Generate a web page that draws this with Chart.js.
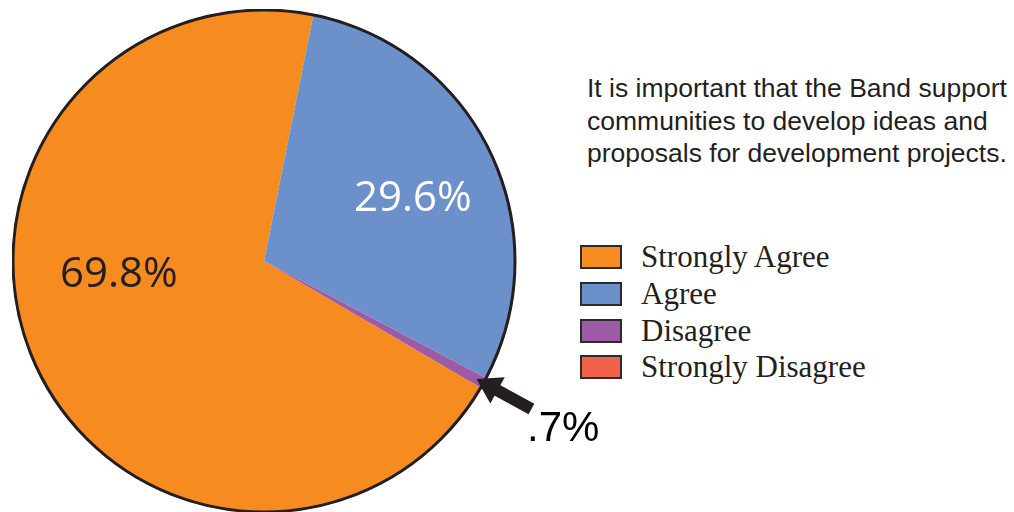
<!DOCTYPE html>
<html>
<head>
<meta charset="utf-8">
<script src="https://cdn.jsdelivr.net/npm/chart.js@4.4.0/dist/chart.umd.min.js"></script>
<style>
  html, body { margin: 0; padding: 0; background: #fff; }
  #wrap { position: relative; width: 1014px; height: 512px; overflow: hidden; }
  #pieBox { position: absolute; left: 12px; top: 9px; width: 564px; height: 504px; }
  .pct { position: absolute; font-family: "Open Sans", "Liberation Sans", sans-serif; font-size: 42px; line-height: 1; white-space: nowrap; }
  #note { position: absolute; left: 587px; top: 72px; font-family: "Liberation Sans", Arial, sans-serif; font-size: 26.5px; line-height: 32.5px; color: #231f20; white-space: nowrap; }
  #legend { position: absolute; left: 580px; top: 239px; font-family: "Liberation Serif", serif; font-size: 31px; color: #231f20; }
  .item { height: 36.7px; display: flex; align-items: center; }
  .swatch { width: 38px; height: 20px; border: 2px solid #2b2b2b; margin-right: 19px; }
</style>
</head>
<body>
<div id="wrap">
  <div id="pieBox"><canvas id="pieChart"></canvas></div>
  <div id="note">It is important that the Band support<br>communities to develop ideas and<br>proposals for development projects.</div>
  <div id="legend"></div>
  <div class="pct" style="left:60px; top:250px; color:#231f20;">69.8%</div>
  <div class="pct" style="left:354px; top:174px; color:#fff;">29.6%</div>
  <div class="pct" style="left:527px; top:406px; color:#000; font-family:'Liberation Sans', Arial, sans-serif;">.7%</div>
</div>
<script>
// survey answers
const labels = ['Strongly Agree', 'Agree', 'Disagree', 'Strongly Disagree'];
const values = [69.8, 29.6, 0.7, 0];
const colors = ['#f68b1f', '#6c91ca', '#9b5ba5', '#f0634a'];

// legend (HTML so it sits where the original has it)
const legendEl = document.getElementById('legend');
labels.forEach((lab, i) => {
  const row = document.createElement('div');
  row.className = 'item';
  const sw = document.createElement('div');
  sw.className = 'swatch';
  sw.style.background = colors[i];
  row.appendChild(sw);
  row.appendChild(document.createTextNode(lab));
  legendEl.appendChild(row);
});

// outline circle + arrow pointing at the tiny slice
const outlinePlugin = {
  id: 'outline',
  afterDatasetsDraw(chart) {
    const ctx = chart.ctx;
    const arcs = chart.getDatasetMeta(0).data;
    const a0 = arcs[0];
    ctx.save();
    ctx.beginPath();
    ctx.arc(a0.x, a0.y, a0.outerRadius - 1, 0, Math.PI * 2);
    ctx.lineWidth = 3;
    ctx.strokeStyle = '#231f20';
    ctx.stroke();

    // arrow
    const d = arcs[2];
    const mid = (d.startAngle + d.endAngle) / 2;
    const tipX = d.x + Math.cos(mid) * (d.outerRadius - 9);
    const tipY = d.y + Math.sin(mid) * (d.outerRadius - 9);
    const tailX = tipX + 55, tailY = tipY + 30;
    const ang = Math.atan2(tailY - tipY, tailX - tipX);
    const ux = Math.cos(ang), uy = Math.sin(ang);
    const headLen = 24, headW = 15;
    const bx = tipX + ux * headLen, by = tipY + uy * headLen;
    ctx.strokeStyle = '#231f20';
    ctx.lineWidth = 12;
    ctx.lineCap = 'butt';
    ctx.beginPath();
    ctx.moveTo(bx - ux * 2, by - uy * 2);
    ctx.lineTo(tailX, tailY);
    ctx.stroke();
    ctx.fillStyle = '#231f20';
    ctx.beginPath();
    ctx.moveTo(tipX, tipY);
    ctx.lineTo(bx - uy * headW, by + ux * headW);
    ctx.lineTo(bx + uy * headW, by - ux * headW);
    ctx.closePath();
    ctx.fill();
    ctx.restore();
  }
};

const pieCtx = document.getElementById('pieChart').getContext('2d');
const pieChart = new Chart(pieCtx, {
  type: 'pie',
  data: {
    labels: labels,
    datasets: [{
      data: values,
      backgroundColor: colors,
      borderWidth: 0
    }]
  },
  options: {
    responsive: true,
    maintainAspectRatio: false,
    animation: false,
    rotation: 120.3,
    layout: { padding: { left: 0, top: 0, bottom: 0, right: 60 } },
    plugins: {
      legend: { display: false },
      tooltip: { enabled: false }
    }
  },
  plugins: [outlinePlugin]
});
</script>
</body>
</html>
